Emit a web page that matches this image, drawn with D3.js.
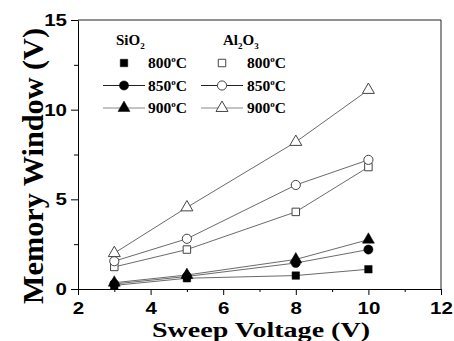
<!DOCTYPE html>
<html>
<head>
<meta charset="utf-8">
<script src="https://cdn.jsdelivr.net/npm/d3@7"></script>
<style>
  html, body { margin: 0; padding: 0; background: #fff; }
  #chart { width: 454px; height: 341px; }
</style>
</head>
<body>
<div id="chart"></div>
<script>
'use strict';

// ─── Data ──────────────────────────────────────────────────────────────────
const sweepVoltage = [3, 5, 8, 10];

const sio2_800 = [0.2, 0.6, 0.75, 1.1];
const sio2_850 = [0.28, 0.7, 1.45, 2.2];
const sio2_900 = [0.35, 0.78, 1.65, 2.75];

const al2o3_800 = [1.23, 2.2, 4.3, 6.8];
const al2o3_850 = [1.55, 2.8, 5.8, 7.2];
const al2o3_900 = [2.0, 4.55, 8.2, 11.1];

const xTicks = [2, 4, 6, 8, 10, 12];
const xMinor = [3, 5, 7, 9, 11];
const yTicks = [0, 5, 10, 15];
const yMinor = [2.5, 7.5, 12.5];

const tempLabels = ['800', '850', '900'];
const shapes = ['square', 'circle', 'triangle'];

// ─── Layout ────────────────────────────────────────────────────────────────
const W = 454, H = 341;
const L = 78, R = 441, T = 20, B = 289;
const serif = "'Liberation Serif', 'Times New Roman', 'DejaVu Serif', serif";
const sans  = "'Liberation Sans', Arial, 'DejaVu Sans', sans-serif";

const svg = d3.select('#chart').append('svg')
    .attr('width', W).attr('height', H)
    .attr('viewBox', '0 0 ' + W + ' ' + H);

const x = d3.scaleLinear().domain([2, 12]).range([L, R]);
const y = d3.scaleLinear().domain([0, 15]).range([B, T]);

const symbolTypes = {
    square:   { type: d3.symbolSquare,   size: 56 },
    circle:   { type: d3.symbolCircle,   size: 66 },
    triangle: { type: d3.symbolTriangle, size: 62 }
};

function symbolPath(shape) {
    const s = symbolTypes[shape];
    return d3.symbol().type(s.type).size(s.size)();
}

// ─── Frame + axes ──────────────────────────────────────────────────────────
svg.append('path')
    .attr('d', 'M' + L + ',' + T + 'H' + R + 'V' + B)
    .attr('fill', 'none').attr('stroke', '#222').attr('stroke-width', 1);

const gx = svg.append('g').attr('transform', 'translate(0,' + B + ')')
    .call(d3.axisBottom(x).tickValues(xTicks).tickSize(6).tickSizeOuter(0).tickPadding(6.5));
svg.append('g').attr('transform', 'translate(0,' + B + ')')
    .call(d3.axisBottom(x).tickValues(xMinor).tickSize(3).tickFormat(''))
    .call(function (g) { g.select('.domain').remove(); });

const gy = svg.append('g').attr('transform', 'translate(' + L + ',0)')
    .call(d3.axisLeft(y).tickValues(yTicks).tickSize(7).tickSizeOuter(0).tickPadding(4));
svg.append('g').attr('transform', 'translate(' + L + ',0)')
    .call(d3.axisLeft(y).tickValues(yMinor).tickSize(4).tickFormat(''))
    .call(function (g) { g.select('.domain').remove(); });

svg.selectAll('.domain, .tick line').attr('stroke', '#000').attr('stroke-width', 1);

// the original labels are a little wider than plain Arial Bold
[gx, gy].forEach(function (g) {
    g.attr('font-family', sans).attr('font-size', 17).attr('font-weight', 'bold');
    g.selectAll('.tick text')
        .attr('fill', '#000')
        .attr('textLength', function (d) { return String(d).length * 11.4; })
        .attr('lengthAdjust', 'spacingAndGlyphs');
});

// ─── Axis titles ───────────────────────────────────────────────────────────
svg.append('text')
    .attr('x', 261).attr('y', 337)
    .attr('text-anchor', 'middle')
    .attr('font-family', serif)
    .attr('font-weight', 'bold').attr('font-size', 22)
    .attr('textLength', 218).attr('lengthAdjust', 'spacingAndGlyphs')
    .text('Sweep Voltage (V)');

svg.append('text')
    .attr('transform', 'translate(43,166) scale(1.2,1) rotate(-90)')
    .attr('text-anchor', 'middle')
    .attr('font-family', serif)
    .attr('font-weight', 'bold').attr('font-size', 24)
    .attr('textLength', 276).attr('lengthAdjust', 'spacingAndGlyphs')
    .text('Memory Window (V)');

// ─── Series ────────────────────────────────────────────────────────────────
const series = [
    { vals: sio2_800,  shape: 'square',   filled: true },
    { vals: sio2_850,  shape: 'circle',   filled: true },
    { vals: sio2_900,  shape: 'triangle', filled: true },
    { vals: al2o3_800, shape: 'square',   filled: false },
    { vals: al2o3_850, shape: 'circle',   filled: false },
    { vals: al2o3_900, shape: 'triangle', filled: false }
];

const line = d3.line()
    .x(function (d) { return x(d[0]); })
    .y(function (d) { return y(d[1]); });

series.forEach(function (s) {
    const pts = sweepVoltage.map(function (v, i) { return [v, s.vals[i]]; });
    svg.append('path')
        .attr('d', line(pts))
        .attr('fill', 'none')
        .attr('stroke', '#444').attr('stroke-width', 0.8);
});

series.forEach(function (s) {
    const pts = sweepVoltage.map(function (v, i) { return [v, s.vals[i]]; });
    svg.append('g').selectAll('path')
        .data(pts).enter().append('path')
        .attr('d', symbolPath(s.shape))
        .attr('transform', function (d) { return 'translate(' + x(d[0]) + ',' + y(d[1]) + ')'; })
        .attr('fill', s.filled ? '#000' : '#fff')
        .attr('stroke', s.filled ? '#000' : '#444')
        .attr('stroke-width', s.filled ? 0.5 : 1);
});

// ─── Legend ────────────────────────────────────────────────────────────────
function header(xPos, parts) {
    const t = svg.append('text')
        .attr('x', xPos).attr('y', 45)
        .attr('font-family', serif).attr('font-weight', 'bold').attr('font-size', 15);
    parts.forEach(function (p) {
        if (p.sub) {
            t.append('tspan').attr('font-size', 9).attr('dy', 4).text(p.text);
        } else {
            t.append('tspan').attr('font-size', 15).attr('dy', p.reset ? -4 : 0).text(p.text);
        }
    });
}

header(116, [{ text: 'SiO' }, { text: '2', sub: true }]);
header(223, [{ text: 'Al' }, { text: '2', sub: true }, { text: 'O', reset: true }, { text: '3', sub: true }]);

const legendCols = [
    { mx: 124, tx: 148, filled: true },
    { mx: 222, tx: 247, filled: false }
];
const rowY = [63, 85.5, 108];

legendCols.forEach(function (c) {
    tempLabels.forEach(function (lab, i) {
        if (i > 0) {
            svg.append('line')
                .attr('x1', c.mx - 21).attr('x2', c.mx + 21)
                .attr('y1', rowY[i]).attr('y2', rowY[i])
                .attr('stroke', i === 2 ? '#888' : '#222').attr('stroke-width', 1);
        }
        svg.append('path')
            .attr('d', symbolPath(shapes[i]))
            .attr('transform', 'translate(' + c.mx + ',' + rowY[i] + ')')
            .attr('fill', c.filled ? '#000' : '#fff')
            .attr('stroke', c.filled ? '#000' : '#444')
            .attr('stroke-width', c.filled ? 0.5 : 1);

        const t = svg.append('text')
            .attr('x', c.tx).attr('y', rowY[i] + 5)
            .attr('font-family', serif).attr('font-weight', 'bold').attr('font-size', 15.5);
        t.append('tspan').text(lab);
        t.append('tspan').attr('font-size', 9).attr('dy', -6).text('o');
        t.append('tspan').attr('dy', 6).text('C');
    });
});
</script>
</body>
</html>
